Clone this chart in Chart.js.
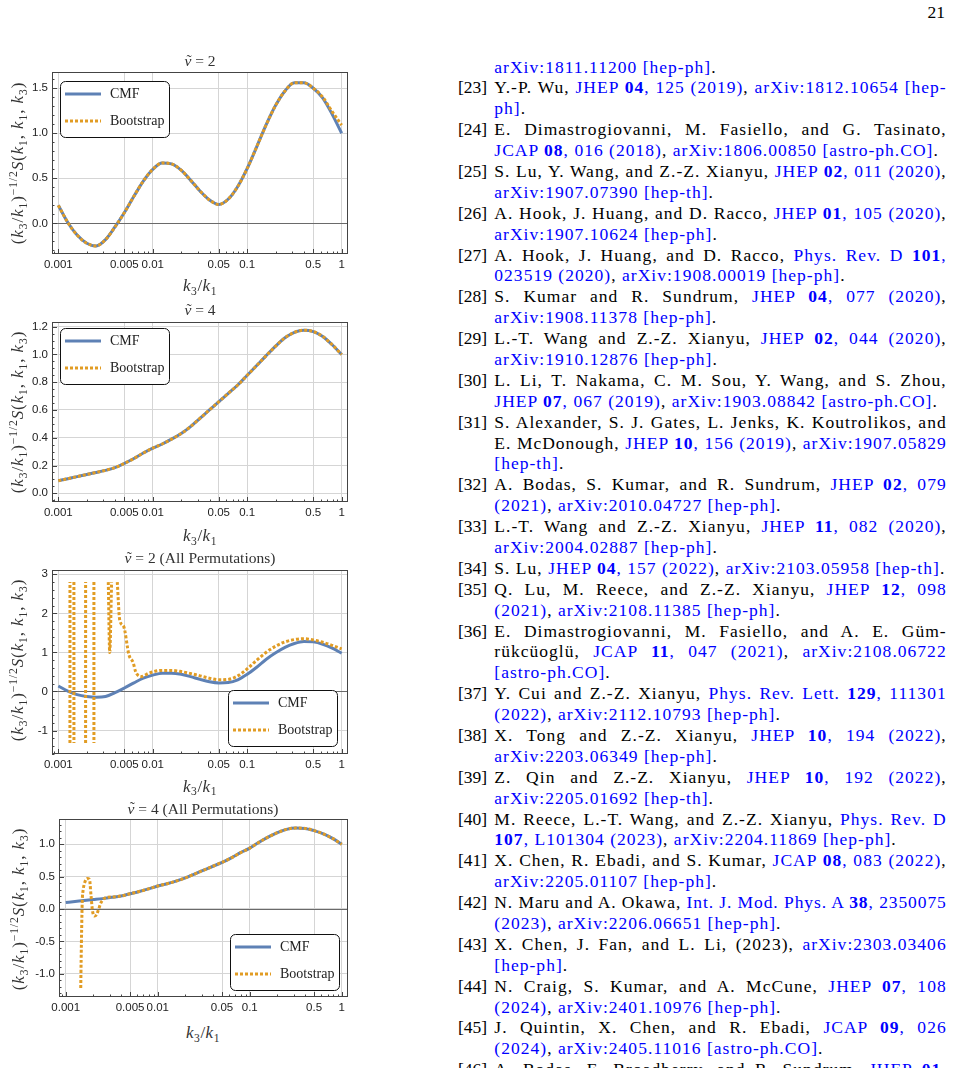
<!DOCTYPE html>
<html>
<head>
<meta charset="utf-8">
<title>CMF vs Bootstrap</title>
<script src="https://cdn.jsdelivr.net/npm/chart.js@4.4.1/dist/chart.umd.min.js"></script>
<style>
  html, body { margin: 0; padding: 0; background: #fff; }
  #page { position: relative; width: 954px; height: 1068px; overflow: hidden; font-family: "Liberation Serif", "DejaVu Serif", serif; color: #000; }
  canvas { position: absolute; }
  .lab { position: absolute; white-space: nowrap; color: #333; transform: translate(-50%, -50%); z-index: 2; line-height: 1; }
  .ttl { font-size: 15.5px; }
  .xl { font-size: 17px; letter-spacing: 0.5px; }
  .yl { font-size: 17px; letter-spacing: 0.9px; transform: translate(-50%, -50%) rotate(-90deg); }
  .lab sub, .lab sup { font-size: 68%; line-height: 0; position: relative; vertical-align: baseline; }
  .lab sub { top: 0.32em; }
  .lab sup { top: -0.48em; }
  .nu { position: relative; font-style: italic; }
  .til { position: absolute; left: 0.14em; top: -0.02em; font-style: normal; }
  #pno { position: absolute; right: 9px; top: 2px; font-size: 17.5px; line-height: 20px; }
  #refs { position: absolute; left: 458px; top: 56.5px; width: 489px; font-size: 17.5px; line-height: 20.9px; }
  .ln { position: relative; height: 20.9px; }
  .num { position: absolute; left: 0; top: 0; }
  .tx { margin-left: 36.3px; width: 452.4px; white-space: normal; }
  .j { text-align: justify; text-align-last: justify; }
  .u { color: #0000ff; }
</style>
</head>
<body>
<div id="page">
  <div id="pno">21</div>

  <canvas id="c1" width="356" height="210" style="left:0;top:60px"></canvas>
  <canvas id="c2" width="356" height="208" style="left:0;top:310px"></canvas>
  <canvas id="c3" width="356" height="212" style="left:0;top:558px"></canvas>
  <canvas id="c4" width="356" height="206" style="left:0;top:807px"></canvas>

  <div class="lab ttl" style="left:200px;top:61px"><span class="nu">ν<span class="til">˜</span></span> = 2</div>
  <div class="lab xl" style="left:200px;top:285px"><i>k</i><sub>3</sub>/<i>k</i><sub>1</sub></div>
  <div class="lab yl" style="left:17px;top:163px">(<i>k</i><sub>3</sub>/<i>k</i><sub>1</sub>)<sup>−1/2</sup><i>S</i>(<i>k</i><sub>1</sub>, <i>k</i><sub>1</sub>, <i>k</i><sub>3</sub>)</div>

  <div class="lab ttl" style="left:200px;top:310px"><span class="nu">ν<span class="til">˜</span></span> = 4</div>
  <div class="lab xl" style="left:200px;top:535px"><i>k</i><sub>3</sub>/<i>k</i><sub>1</sub></div>
  <div class="lab yl" style="left:17px;top:412px">(<i>k</i><sub>3</sub>/<i>k</i><sub>1</sub>)<sup>−1/2</sup><i>S</i>(<i>k</i><sub>1</sub>, <i>k</i><sub>1</sub>, <i>k</i><sub>3</sub>)</div>

  <div class="lab ttl" style="left:200px;top:558px"><span class="nu">ν<span class="til">˜</span></span> = 2 (All Permutations)</div>
  <div class="lab xl" style="left:200px;top:785.5px"><i>k</i><sub>3</sub>/<i>k</i><sub>1</sub></div>
  <div class="lab yl" style="left:17px;top:660px">(<i>k</i><sub>3</sub>/<i>k</i><sub>1</sub>)<sup>−1/2</sup><i>S</i>(<i>k</i><sub>1</sub>, <i>k</i><sub>1</sub>, <i>k</i><sub>3</sub>)</div>

  <div class="lab ttl" style="left:203px;top:808.5px"><span class="nu">ν<span class="til">˜</span></span> = 4 (All Permutations)</div>
  <div class="lab xl" style="left:203px;top:1032px"><i>k</i><sub>3</sub>/<i>k</i><sub>1</sub></div>
  <div class="lab yl" style="left:18px;top:909px">(<i>k</i><sub>3</sub>/<i>k</i><sub>1</sub>)<sup>−1/2</sup><i>S</i>(<i>k</i><sub>1</sub>, <i>k</i><sub>1</sub>, <i>k</i><sub>3</sub>)</div>

  <div id="refs">
    <div class="ln"><div class="tx"><span class="u">arXiv:1811.11200 [hep-ph]</span>.</div></div>
    <div class="ln"><span class="num">[23]</span><div class="tx j">Y.-P. Wu, <span class="u">JHEP <b>04</b>, 125 (2019)</span>, <span class="u">arXiv:1812.10654 [hep-</span></div></div>
    <div class="ln"><div class="tx"><span class="u">ph]</span>.</div></div>
    <div class="ln"><span class="num">[24]</span><div class="tx j">E. Dimastrogiovanni, M. Fasiello, and G. Tasinato,</div></div>
    <div class="ln"><div class="tx"><span class="u">JCAP <b>08</b>, 016 (2018)</span>, <span class="u">arXiv:1806.00850 [astro-ph.CO]</span>.</div></div>
    <div class="ln"><span class="num">[25]</span><div class="tx j">S. Lu, Y. Wang, and Z.-Z. Xianyu, <span class="u">JHEP <b>02</b>, 011 (2020)</span>,</div></div>
    <div class="ln"><div class="tx"><span class="u">arXiv:1907.07390 [hep-th]</span>.</div></div>
    <div class="ln"><span class="num">[26]</span><div class="tx j">A. Hook, J. Huang, and D. Racco, <span class="u">JHEP <b>01</b>, 105 (2020)</span>,</div></div>
    <div class="ln"><div class="tx"><span class="u">arXiv:1907.10624 [hep-ph]</span>.</div></div>
    <div class="ln"><span class="num">[27]</span><div class="tx j">A. Hook, J. Huang, and D. Racco, <span class="u">Phys. Rev. D <b>101</b>,</span></div></div>
    <div class="ln"><div class="tx"><span class="u">023519 (2020)</span>, <span class="u">arXiv:1908.00019 [hep-ph]</span>.</div></div>
    <div class="ln"><span class="num">[28]</span><div class="tx j">S. Kumar and R. Sundrum, <span class="u">JHEP <b>04</b>, 077 (2020)</span>,</div></div>
    <div class="ln"><div class="tx"><span class="u">arXiv:1908.11378 [hep-ph]</span>.</div></div>
    <div class="ln"><span class="num">[29]</span><div class="tx j">L.-T. Wang and Z.-Z. Xianyu, <span class="u">JHEP <b>02</b>, 044 (2020)</span>,</div></div>
    <div class="ln"><div class="tx"><span class="u">arXiv:1910.12876 [hep-ph]</span>.</div></div>
    <div class="ln"><span class="num">[30]</span><div class="tx j">L. Li, T. Nakama, C. M. Sou, Y. Wang, and S. Zhou,</div></div>
    <div class="ln"><div class="tx"><span class="u">JHEP <b>07</b>, 067 (2019)</span>, <span class="u">arXiv:1903.08842 [astro-ph.CO]</span>.</div></div>
    <div class="ln"><span class="num">[31]</span><div class="tx j">S. Alexander, S. J. Gates, L. Jenks, K. Koutrolikos, and</div></div>
    <div class="ln"><div class="tx j">E. McDonough, <span class="u">JHEP <b>10</b>, 156 (2019)</span>, <span class="u">arXiv:1907.05829</span></div></div>
    <div class="ln"><div class="tx"><span class="u">[hep-th]</span>.</div></div>
    <div class="ln"><span class="num">[32]</span><div class="tx j">A. Bodas, S. Kumar, and R. Sundrum, <span class="u">JHEP <b>02</b>, 079</span></div></div>
    <div class="ln"><div class="tx"><span class="u">(2021)</span>, <span class="u">arXiv:2010.04727 [hep-ph]</span>.</div></div>
    <div class="ln"><span class="num">[33]</span><div class="tx j">L.-T. Wang and Z.-Z. Xianyu, <span class="u">JHEP <b>11</b>, 082 (2020)</span>,</div></div>
    <div class="ln"><div class="tx"><span class="u">arXiv:2004.02887 [hep-ph]</span>.</div></div>
    <div class="ln"><span class="num">[34]</span><div class="tx" id="r34">S. Lu, <span class="u">JHEP <b>04</b>, 157 (2022)</span>, <span class="u">arXiv:2103.05958 [hep-th]</span>.</div></div>
    <div class="ln"><span class="num">[35]</span><div class="tx j">Q. Lu, M. Reece, and Z.-Z. Xianyu, <span class="u">JHEP <b>12</b>, 098</span></div></div>
    <div class="ln"><div class="tx"><span class="u">(2021)</span>, <span class="u">arXiv:2108.11385 [hep-ph]</span>.</div></div>
    <div class="ln"><span class="num">[36]</span><div class="tx j">E. Dimastrogiovanni, M. Fasiello, and A. E. Güm-</div></div>
    <div class="ln"><div class="tx j">rükcüoglü, <span class="u">JCAP <b>11</b>, 047 (2021)</span>, <span class="u">arXiv:2108.06722</span></div></div>
    <div class="ln"><div class="tx"><span class="u">[astro-ph.CO]</span>.</div></div>
    <div class="ln"><span class="num">[37]</span><div class="tx j">Y. Cui and Z.-Z. Xianyu, <span class="u">Phys. Rev. Lett. <b>129</b>, 111301</span></div></div>
    <div class="ln"><div class="tx"><span class="u">(2022)</span>, <span class="u">arXiv:2112.10793 [hep-ph]</span>.</div></div>
    <div class="ln"><span class="num">[38]</span><div class="tx j">X. Tong and Z.-Z. Xianyu, <span class="u">JHEP <b>10</b>, 194 (2022)</span>,</div></div>
    <div class="ln"><div class="tx"><span class="u">arXiv:2203.06349 [hep-ph]</span>.</div></div>
    <div class="ln"><span class="num">[39]</span><div class="tx j">Z. Qin and Z.-Z. Xianyu, <span class="u">JHEP <b>10</b>, 192 (2022)</span>,</div></div>
    <div class="ln"><div class="tx"><span class="u">arXiv:2205.01692 [hep-th]</span>.</div></div>
    <div class="ln"><span class="num">[40]</span><div class="tx j">M. Reece, L.-T. Wang, and Z.-Z. Xianyu, <span class="u">Phys. Rev. D</span></div></div>
    <div class="ln"><div class="tx"><span class="u"><b>107</b>, L101304 (2023)</span>, <span class="u">arXiv:2204.11869 [hep-ph]</span>.</div></div>
    <div class="ln"><span class="num">[41]</span><div class="tx j">X. Chen, R. Ebadi, and S. Kumar, <span class="u">JCAP <b>08</b>, 083 (2022)</span>,</div></div>
    <div class="ln"><div class="tx"><span class="u">arXiv:2205.01107 [hep-ph]</span>.</div></div>
    <div class="ln"><span class="num">[42]</span><div class="tx j">N. Maru and A. Okawa, <span class="u">Int. J. Mod. Phys. A <b>38</b>, 2350075</span></div></div>
    <div class="ln"><div class="tx"><span class="u">(2023)</span>, <span class="u">arXiv:2206.06651 [hep-ph]</span>.</div></div>
    <div class="ln"><span class="num">[43]</span><div class="tx j">X. Chen, J. Fan, and L. Li, (2023), <span class="u">arXiv:2303.03406</span></div></div>
    <div class="ln"><div class="tx"><span class="u">[hep-ph]</span>.</div></div>
    <div class="ln"><span class="num">[44]</span><div class="tx j">N. Craig, S. Kumar, and A. McCune, <span class="u">JHEP <b>07</b>, 108</span></div></div>
    <div class="ln"><div class="tx"><span class="u">(2024)</span>, <span class="u">arXiv:2401.10976 [hep-ph]</span>.</div></div>
    <div class="ln"><span class="num">[45]</span><div class="tx j">J. Quintin, X. Chen, and R. Ebadi, <span class="u">JCAP <b>09</b>, 026</span></div></div>
    <div class="ln"><div class="tx"><span class="u">(2024)</span>, <span class="u">arXiv:2405.11016 [astro-ph.CO]</span>.</div></div>
    <div class="ln"><span class="num">[46]</span><div class="tx j">A. Bodas, E. Broadberry, and R. Sundrum, <span class="u">JHEP <b>01</b>,</span></div></div>
  </div>
</div>

<script>
// k3/k1 sample points, one every tenth of a decade
var kGrid = [0.001, 0.00126, 0.00158, 0.002, 0.00251, 0.00316, 0.00398, 0.00501, 0.00631, 0.00794,
             0.01, 0.0126, 0.0158, 0.02, 0.0251, 0.0316, 0.0398, 0.0501, 0.0631, 0.0794,
             0.1, 0.126, 0.158, 0.2, 0.251, 0.316, 0.398, 0.501, 0.631, 0.794, 1];

var xTicks = [0.001, 0.005, 0.01, 0.05, 0.1, 0.5, 1];
var xTickLabels = ['0.001', '0.005', '0.01', '0.05', '0.1', '0.5', '1'];

// nu = 2
var cmf1  = [0.20, 0.01, -0.13, -0.22, -0.25, -0.18, -0.04, 0.12, 0.30, 0.47, 0.60, 0.67, 0.66, 0.59, 0.48, 0.36,
             0.26, 0.21, 0.27, 0.41, 0.61, 0.85, 1.09, 1.31, 1.47, 1.56, 1.56, 1.50, 1.39, 1.21, 1.00];
var boot1 = [0.20, 0.01, -0.13, -0.22, -0.25, -0.18, -0.04, 0.12, 0.30, 0.47, 0.60, 0.67, 0.66, 0.59, 0.48, 0.36,
             0.26, 0.21, 0.27, 0.41, 0.61, 0.85, 1.09, 1.31, 1.47, 1.56, 1.56, 1.50, 1.40, 1.24, 1.09];
var yTicks1 = [0, 0.5, 1, 1.5];

// nu = 4
var cmf2  = [0.09, 0.105, 0.12, 0.135, 0.15, 0.165, 0.185, 0.215, 0.25, 0.29, 0.325, 0.355, 0.39, 0.43, 0.48, 0.54,
             0.60, 0.66, 0.72, 0.78, 0.85, 0.92, 0.99, 1.06, 1.12, 1.16, 1.175, 1.165, 1.13, 1.07, 1.00];
var boot2 = [0.09, 0.105, 0.12, 0.135, 0.15, 0.165, 0.185, 0.215, 0.25, 0.29, 0.325, 0.355, 0.39, 0.43, 0.48, 0.54,
             0.60, 0.66, 0.72, 0.78, 0.85, 0.92, 0.99, 1.06, 1.12, 1.16, 1.175, 1.165, 1.13, 1.07, 1.00];
var yTicks2 = [0, 0.2, 0.4, 0.6, 0.8, 1.0, 1.2];

// nu = 2, all permutations
var cmf3 = [0.14, 0.01, -0.08, -0.13, -0.15, -0.13, -0.03, 0.09, 0.22, 0.34, 0.42, 0.47, 0.47, 0.44, 0.38, 0.31,
            0.25, 0.22, 0.23, 0.30, 0.44, 0.62, 0.82, 0.99, 1.13, 1.23, 1.28, 1.27, 1.21, 1.11, 0.98];
var boot3X = [0.001327, 0.001328, 0.0014, 0.001462, 0.001463, 0.0017, 0.001944, 0.001945, 0.0021, 0.002381, 0.002382,
              0.0029, 0.00338, 0.0035, 0.003664, 0.0039, 0.00421, 0.00446, 0.00491, 0.00559, 0.00622, 0.00658,
              0.00743, 0.0091, 0.01, 0.0112, 0.0126, 0.0158, 0.02, 0.0251, 0.0316, 0.0398, 0.0501, 0.0631, 0.0794,
              0.1, 0.126, 0.158, 0.2, 0.251, 0.316, 0.398, 0.501, 0.631, 0.794, 1];
var boot3Y = [-1.32, 2.8, null, 2.8, -1.32, null, -1.32, 2.8, null, 2.8, -1.32,
              null, 2.8, 1.0, 2.8, null, 2.8, 1.84, 1.67, 0.94, 0.73, 0.51,
              0.38, 0.47, 0.50, 0.53, 0.54, 0.54, 0.51, 0.46, 0.40, 0.34, 0.30, 0.31, 0.40,
              0.58, 0.80, 1.00, 1.16, 1.27, 1.33, 1.35, 1.32, 1.26, 1.18, 1.09];
var yTicks3 = [-1, 0, 1, 2, 3];

// nu = 4, all permutations
var cmf4 = [0.10, 0.115, 0.13, 0.145, 0.16, 0.18, 0.20, 0.235, 0.27, 0.31, 0.355, 0.39, 0.43, 0.48, 0.54, 0.60,
            0.66, 0.72, 0.79, 0.87, 0.94, 1.03, 1.11, 1.18, 1.23, 1.25, 1.245, 1.21, 1.16, 1.09, 1.00];
var boot4X = [0.001456, 0.00147, 0.00149, 0.00151, 0.00155, 0.00162, 0.0017, 0.00181, 0.00188, 0.00195, 0.00205,
              0.00216, 0.00226, 0.00242, 0.00279, 0.00316, 0.00398, 0.00501, 0.00631, 0.00794, 0.01, 0.0126,
              0.0158, 0.02, 0.0251, 0.0316, 0.0398, 0.0501, 0.0631, 0.0794, 0.1, 0.126, 0.158, 0.2, 0.251,
              0.316, 0.398, 0.501, 0.631, 0.794, 1];
var boot4Y = [-1.22, -0.8, -0.3, 0.1, 0.3, 0.42, 0.47, 0.46, 0.22, -0.02, -0.11,
              -0.09, -0.02, 0.10, 0.18, 0.185, 0.20, 0.235, 0.27, 0.31, 0.355, 0.39,
              0.43, 0.48, 0.54, 0.60, 0.66, 0.72, 0.79, 0.87, 0.94, 1.03, 1.11, 1.18, 1.23,
              1.25, 1.245, 1.21, 1.16, 1.09, 1.00];
var yTicks4 = [-1, -0.5, 0, 0.5, 1];

var BLUE = '#5e81b5';
var ORANGE = '#e19c24';
var GRID = '#d5d5d5';
var FRAME = '#444';
var TICKFONT = { family: '"Liberation Sans", Arial, sans-serif', size: 11.5 };

function pts(xs, ys) {
  return xs.map(function (x, i) { return { x: x, y: ys[i] }; });
}

function isTick(list, v) {
  return list.some(function (t) { return Math.abs(t - v) < 1e-9 + Math.abs(t) * 1e-6; });
}

// Mathematica-like frame: box, inward ticks, y = 0 axis, boxed legend
var mmaFrame = {
  id: 'mmaFrame',
  beforeDatasetsDraw: function (chart, args, o) {
    if (!o.zeroLine) return;
    var a = chart.chartArea, ctx = chart.ctx;
    var y = Math.round(chart.scales.y.getPixelForValue(0)) + 0.5;
    ctx.save();
    ctx.strokeStyle = '#6a6a6a';
    ctx.lineWidth = 1;
    ctx.beginPath(); ctx.moveTo(a.left, y); ctx.lineTo(a.right, y); ctx.stroke();
    ctx.restore();
  },
  afterDraw: function (chart, args, o) {
    var a = chart.chartArea, ctx = chart.ctx, sx = chart.scales.x, sy = chart.scales.y;
    ctx.save();
    ctx.strokeStyle = FRAME;
    ctx.lineWidth = 1;
    ctx.strokeRect(a.left + 0.5, a.top + 0.5, a.right - a.left - 1, a.bottom - a.top - 1);

    ctx.beginPath();
    var step = o.yMinor;
    for (var k = Math.ceil(sy.min / step); k * step <= sy.max; k++) {
      var v = k * step;
      var y = Math.round(sy.getPixelForValue(v)) + 0.5;
      ctx.moveTo(a.left, y);
      ctx.lineTo(a.left + (isTick(o.yTicks, v) ? 5 : 2.5), y);
    }
    for (var d = -4; d <= 0; d++) {
      for (var m = 1; m <= 9; m++) {
        var xv = m * Math.pow(10, d);
        if (xv < sx.min || xv > sx.max) continue;
        var px = Math.round(sx.getPixelForValue(xv)) + 0.5;
        ctx.moveTo(px, a.bottom);
        ctx.lineTo(px, a.bottom - (isTick(xTicks, xv) ? 5 : 2.5));
      }
    }
    ctx.stroke();

    // legend box
    var L = o.legend, w = 109, h = 56, r = 5;
    ctx.beginPath();
    ctx.roundRect(L.x + 0.5, L.y + 0.5, w, h, r);
    ctx.fillStyle = '#fff';
    ctx.fill();
    ctx.strokeStyle = '#111';
    ctx.stroke();
    var rows = [13, 40];
    chart.data.datasets.forEach(function (ds, i) {
      var yy = L.y + rows[i];
      ctx.strokeStyle = ds.borderColor;
      ctx.lineWidth = ds.borderWidth;
      ctx.setLineDash(ds.borderDash || []);
      ctx.beginPath(); ctx.moveTo(L.x + 5, yy); ctx.lineTo(L.x + 41, yy); ctx.stroke();
      ctx.setLineDash([]);
      ctx.fillStyle = '#222';
      ctx.font = '14px "Liberation Serif", serif';
      ctx.textBaseline = 'middle';
      ctx.fillText(ds.label, L.x + 50, yy + 0.5);
    });
    ctx.restore();
  }
};

function makeChart(id, c) {
  var ctx = document.getElementById(id).getContext('2d');
  return new Chart(ctx, {
    type: 'line',
    data: {
      datasets: [{
        label: 'CMF',
        data: pts(kGrid, c.cmf),
        borderColor: BLUE,
        borderWidth: 3,
        pointRadius: 0,
        cubicInterpolationMode: 'monotone',
        order: 2
      }, {
        label: 'Bootstrap',
        data: pts(c.bootX, c.boot),
        borderColor: ORANGE,
        borderWidth: 3,
        borderDash: [3, 2],
        pointRadius: 0,
        cubicInterpolationMode: 'monotone',
        spanGaps: false,
        order: 1
      }]
    },
    options: {
      responsive: false,
      animation: false,
      devicePixelRatio: 1,
      events: [],
      layout: { padding: { top: 12, right: 8, left: 0, bottom: 0 } },
      plugins: {
        legend: { display: false },
        tooltip: { enabled: false },
        mmaFrame: { zeroLine: c.zeroLine, yMinor: c.yMinor, yTicks: c.yTicks, legend: c.legend }
      },
      scales: {
        x: {
          type: 'logarithmic',
          min: c.xmin,
          max: c.xmax,
          afterBuildTicks: function (s) { s.ticks = xTicks.map(function (v) { return { value: v }; }); },
          afterFit: function (s) { s.height = 16; },
          ticks: {
            autoSkip: false, maxRotation: 0, minRotation: 0, padding: 4,
            color: '#222', font: TICKFONT,
            callback: function (v, i) { return xTickLabels[i]; }
          },
          grid: { color: GRID, drawTicks: false },
          border: { display: false }
        },
        y: {
          type: 'linear',
          min: c.ymin,
          max: c.ymax,
          afterBuildTicks: function (s) { s.ticks = c.yTicks.map(function (v) { return { value: v }; }); },
          afterFit: function (s) { s.width = c.yw; },
          ticks: {
            padding: 4, color: '#222', font: TICKFONT,
            callback: function (v) { return c.fmt(v); }
          },
          grid: { color: GRID, drawTicks: false },
          border: { display: false }
        }
      }
    },
    plugins: [mmaFrame]
  });
}

function oneDec(v) { return (v < 0 ? '-' : '') + Math.abs(v).toFixed(1); }
function intLab(v) { return String(Math.round(v)); }

makeChart('c1', { cmf: cmf1, bootX: kGrid, boot: boot1, xmin: 0.000857, xmax: 1.167, ymin: -0.34, ymax: 1.68,
  yTicks: yTicks1, yMinor: 0.1, fmt: oneDec, yw: 52, zeroLine: true, legend: { x: 60, y: 21 } });
makeChart('c2', { cmf: cmf2, bootX: kGrid, boot: boot2, xmin: 0.000857, xmax: 1.167, ymin: -0.063, ymax: 1.234,
  yTicks: yTicks2, yMinor: 0.05, fmt: oneDec, yw: 52, zeroLine: false, legend: { x: 60, y: 18 } });
makeChart('c3', { cmf: cmf3, bootX: boot3X, boot: boot3Y, xmin: 0.000857, xmax: 1.167, ymin: -1.60, ymax: 3.11,
  yTicks: yTicks3, yMinor: 0.2, fmt: intLab, yw: 52, zeroLine: true, legend: { x: 228, y: 132 } });
makeChart('c4', { cmf: cmf4, bootX: boot4X, boot: boot4Y, xmin: 0.000845, xmax: 1.169, ymin: -1.36, ymax: 1.39,
  yTicks: yTicks4, yMinor: 0.1, fmt: oneDec, yw: 59, zeroLine: true, legend: { x: 230, y: 127 } });

// spread the reference column so the one-line entry [34] fills the measure, as in the page
function fitRefs() {
  var box = document.getElementById('refs');
  var meas = document.createElement('span');
  meas.style.cssText = 'position:absolute;visibility:hidden;white-space:nowrap;left:0;top:0';
  box.appendChild(meas);
  function natural(el) { meas.innerHTML = el.innerHTML; return meas.getBoundingClientRect().width; }
  var r34 = document.getElementById('r34');
  var w34 = natural(r34);
  var ls = (451 - w34) / r34.textContent.length;
  box.style.letterSpacing = ls + 'px';
  box.querySelectorAll('.num').forEach(function (el) { el.style.letterSpacing = '0px'; });
  box.querySelectorAll('.tx').forEach(function (el) {
    var w = natural(el);
    if (w > 451.5) el.style.letterSpacing = (ls + (451.5 - w) / el.textContent.length) + 'px';
  });
  box.removeChild(meas);
}
fitRefs();
</script>
</body>
</html>
